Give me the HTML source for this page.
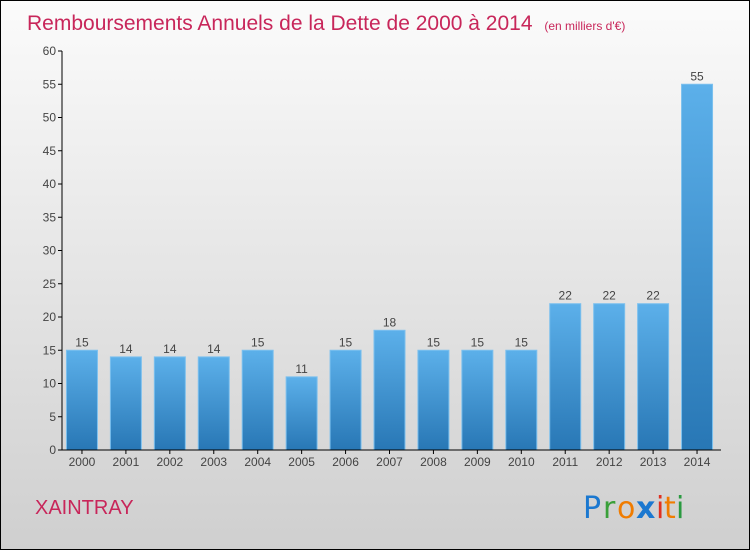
<!DOCTYPE html>
<html><head><meta charset="utf-8"><style>
body{margin:0;width:750px;height:550px;overflow:hidden;font-family:"Liberation Sans",sans-serif}
</style></head><body>
<svg width="750" height="550" xmlns="http://www.w3.org/2000/svg">
<defs>
<linearGradient id="bg" x1="0" y1="0" x2="0" y2="1"><stop offset="0" stop-color="#fbfbfb"/><stop offset="1" stop-color="#cfcfcf"/></linearGradient>
<linearGradient id="bar" x1="0" y1="0" x2="0" y2="1"><stop offset="0" stop-color="#5cb0ea"/><stop offset="1" stop-color="#2877b5"/></linearGradient>
</defs>
<rect x="0.5" y="0.5" width="749" height="549" fill="url(#bg)" stroke="#000"/>
<text x="27" y="30" font-size="21" fill="#c8265a">Remboursements Annuels de la Dette de 2000 à 2014 <tspan font-size="12" dx="6">(en milliers d'€)</tspan></text>
<g id="yaxis"></g>
<g id="bars"></g>
<g id="xaxis"></g>
<text x="35" y="514" font-size="20" fill="#c8265a">XAINTRAY</text>
<g font-size="30" font-family="DejaVu Sans,sans-serif">
<text x="583" y="518" fill="#1b78d0">P</text><text x="603" y="518" fill="#3aa03a">r</text><text x="617" y="518" fill="#f07c00">o</text><text x="636" y="518" fill="#1b78d0" font-weight="bold">x</text><text x="656" y="518" fill="#e03020">i</text><text x="664" y="518" fill="#f07c00">t</text><text x="676" y="518" fill="#2a9a40">i</text>
</g>
</svg>
<script>
const categories=["2000","2001","2002","2003","2004","2005","2006","2007","2008","2009","2010","2011","2012","2013","2014"];
const values=[15,14,14,14,15,11,15,18,15,15,15,22,22,22,55];
const yTicks=[0,5,10,15,20,25,30,35,40,45,50,55,60];
const NS="http://www.w3.org/2000/svg";
const x0=62,x1=721,yb=450,yt=51,ymax=60;
const y=v=>yb-(v/ymax)*(yb-yt);
const step=(x1-x0)/categories.length;
const xc=i=>x0+step*(i+0.5)-2;
function mk(t,a,p){const e=document.createElementNS(NS,t);for(const k in a)e.setAttribute(k,a[k]);p.appendChild(e);return e;}
const ya=document.getElementById('yaxis');
mk('line',{x1:x0,y1:yt,x2:x0,y2:yb,stroke:'#000'},ya);
yTicks.forEach(t=>{
 const l=mk('line',{x1:x0-4,y1:y(t),x2:x0,y2:y(t),stroke:'#000'},ya);
 
 
 const tx=mk('text',{x:x0-6,y:y(t)+4,'text-anchor':'end','font-size':12,fill:'#444'},ya);
 tx.textContent=t;
 
 
});
const xa=document.getElementById('xaxis');
mk('line',{x1:x0,y1:yb,x2:x1,y2:yb,stroke:'#000'},xa);
const bg=document.getElementById('bars');
categories.forEach((c,i)=>{
 const cx=xc(i),w=31;
 const r=mk('rect',{x:cx-w/2,y:y(values[i]),width:w,height:yb-y(values[i]),fill:'url(#bar)',stroke:'#7cc0ee','stroke-width':1},bg);
 
 
 const v=mk('text',{x:cx,y:y(values[i])-4,'text-anchor':'middle','font-size':12,fill:'#444'},bg);
 v.textContent=values[i];
 
 
 const tk=mk('line',{x1:cx,y1:yb,x2:cx,y2:yb+4,stroke:'#000'},xa);
 
 
 const t=mk('text',{x:cx,y:yb+16,'text-anchor':'middle','font-size':12,fill:'#444'},xa);
 t.textContent=c;
 
 
});
</script>
</body></html>
